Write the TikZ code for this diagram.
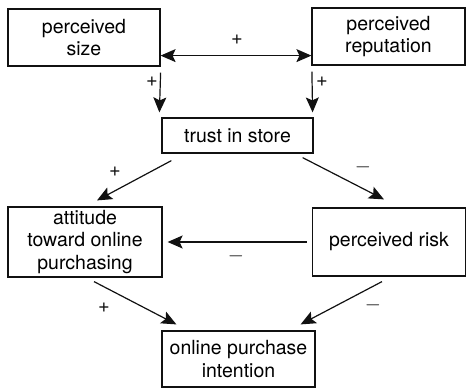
\documentclass[tikz,border=0pt]{standalone}
\usepackage{fontspec}
\setmainfont{TeX Gyre Heros}
\usepackage{xcolor}
\usetikzlibrary{positioning,arrows.meta,calc}
\definecolor{ink}{HTML}{111111}

\begin{document}
\begin{tikzpicture}[x=1pt,y=-1pt,font=\fontsize{19.5}{22.5}\selectfont,
  box/.style={draw=ink,line width=1.2pt,align=center,inner sep=0pt},
  arr/.style={-{Stealth[length=15pt,width=13pt,inset=3pt]},line width=1.2pt,draw=ink},
  darr/.style={{Stealth[length=15pt,width=13pt,inset=3pt]}-{Stealth[length=15pt,width=13pt,inset=3pt]},line width=1.2pt,draw=ink},
  sign/.style={inner sep=0pt,font=\fontsize{20}{20}\selectfont,color=ink}]
  \useasboundingbox (0,0) rectangle (466,388);
  \node[box,minimum width=152pt,minimum height=57pt] (size) at (84,37.5) {perceived\\size};
  \node[box,minimum width=153pt,minimum height=57pt] (rep) at (388.5,36.5) {perceived\\reputation};
  \node[box,minimum width=151pt,minimum height=35pt] (trust) at (237.5,135.5) {trust in store};
  \node[box,minimum width=154pt,minimum height=70pt] (att) at (85,242) {attitude\\toward online\\purchasing};
  \node[box,minimum width=153pt,minimum height=68pt] (risk) at (389,242) {perceived risk};
  \node[box,minimum width=153pt,minimum height=56pt] (intent) at (238.5,359) {online purchase\\intention};
  % connectors
  \draw[darr] ([yshift=11pt]size.south east) -- ([yshift=10pt]rep.south west);
  \draw[arr] ([yshift=-6pt]size.south east) -- ([xshift=-2pt,yshift=5pt]trust.north west);
  \draw[arr] ([xshift=0.5pt,yshift=-6pt]rep.south west) -- ([xshift=-1pt,yshift=5pt]trust.north east);
  \draw[arr] ([xshift=10pt,yshift=-7pt]trust.south west) -- ([xshift=12pt,yshift=6pt]att.north);
  \draw[arr] ([xshift=-11pt,yshift=-4pt]trust.south east) -- ([xshift=-5pt,yshift=8pt]risk.north);
  \draw[arr] ([xshift=-5pt]risk.west) -- ([xshift=5pt]att.east);
  \draw[arr] ([xshift=9pt,yshift=-4pt]att.south) -- ([xshift=15pt,yshift=6pt]intent.north west);
  \draw[arr] ([xshift=-7pt,yshift=-5pt]risk.south) -- ([xshift=-15pt,yshift=6pt]intent.north east);
  % signs
  \foreach \i/\x/\y/\s in {1/237/40/+,2/152/82/+,3/322/82/+,4/115/172/+,5/363/167/$-$,6/236/256/$-$,7/104/308/+,8/373/305/$-$}
    \node[sign] (s\i) at (\x,\y) {\s};
\end{tikzpicture}
\end{document}
